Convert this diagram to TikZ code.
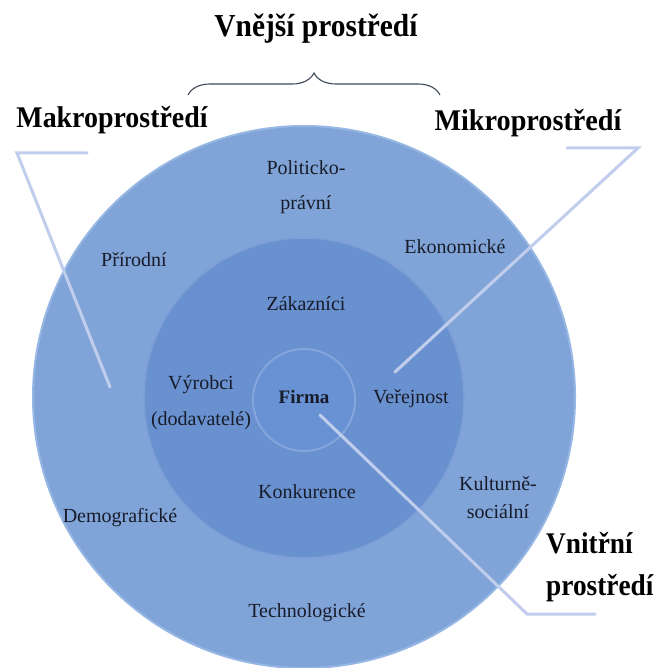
\documentclass[tikz,border=0pt]{standalone}
\usepackage{fontspec}
\usepackage{graphicx}
\setmainfont{Liberation Serif}
\usetikzlibrary{decorations.pathreplacing}
\definecolor{outerc}{RGB}{128,164,215}
\definecolor{outerrim}{RGB}{150,182,228}
\definecolor{midc}{RGB}{106,145,207}
\definecolor{midrim}{RGB}{124,159,214}
\definecolor{firmc}{RGB}{104,146,212}
\definecolor{firmrim}{RGB}{132,166,220}
\definecolor{leadc}{RGB}{192,205,236}
\definecolor{txtc}{RGB}{24,28,42}
\definecolor{bracec}{RGB}{62,72,88}
\begin{document}
\begin{tikzpicture}[x=1pt,y=-1pt,
  disc/.style={circle, inner sep=0pt, minimum size=#1},
  lab/.style={font=\fontsize{20}{35}\selectfont, text=txtc, inner sep=0pt, align=center, anchor=base},
  big/.style={font=\fontsize{30}{42}\selectfont\bfseries, text=black, inner sep=0pt, anchor=base},
  lead/.style={draw=leadc, line width=3pt, line cap=round, line join=miter}]
\useasboundingbox (0,0) rectangle (659,668);
\fill[white] (0,0) rectangle (659,668);

% circles
\node[disc=542pt, fill=outerc, draw=outerrim, line width=2pt] (outer) at (304,397) {};
\node[disc=320pt, fill=midc, draw=midrim, line width=1.5pt] (middle) at (304,398) {};
\node[disc=102pt, fill=firmc, draw=firmrim, line width=2pt] (firmacirc) at (304,400) {};

% brace
\coordinate (brL) at (188,95);
\coordinate (brR) at (440,95);
\draw[bracec, line width=1.1pt, decorate, decoration={brace, amplitude=22pt}] (brL) -- (brR);

% leader lines
\coordinate (mkA) at (87,153);
\coordinate (mkB) at (17,153);
\coordinate (mkC) at (110,387);
\draw[lead] (mkA) -- (mkB) -- (mkC);
\coordinate (miA) at (567,148);
\coordinate (miB) at (638,148);
\coordinate (miC) at (395,372);
\draw[lead] (miA) -- (miB) -- (miC);
\coordinate (vnA) at (320,415);
\coordinate (vnB) at (527,614);
\coordinate (vnC) at (595,614);
\draw[lead] (vnA) -- (vnB) -- (vnC);

% headings
\node[big, font=\fontsize{32}{42}\selectfont\bfseries] (vnejsi) at (316,37) {\scalebox{0.92}[1]{Vnější prostředí}};
\node[big] (makro) at (112,128) {\scalebox{0.93}[1]{Makroprostředí}};
\node[big] (mikro) at (528,131) {\scalebox{0.94}[1]{Mikroprostředí}};
\node[big, anchor=base west, align=left] (vnitrni) at (546,595) {\scalebox{0.91}[1]{Vnitřní}\\\scalebox{0.91}[1]{prostředí}};

% ring labels
\node[lab] (polit) at (306,210) {Politicko-\\právní};
\node[lab] (ekon) at (455,253) {Ekonomické};
\node[lab] (prir) at (134,266) {Přírodní};
\node[lab] (zak) at (306,310) {Zákazníci};
\node[lab, font=\fontsize{20}{36}\selectfont] (vyr) at (201,425) {Výrobci\\(dodavatelé)};
\node[lab, font=\fontsize{19}{24}\selectfont\bfseries] (firma) at (304,403) {Firma};
\node[lab] (ver) at (411,403) {Veřejnost};
\node[lab] (konk) at (307,498) {Konkurence};
\node[lab, font=\fontsize{20}{28}\selectfont] (kult) at (498,518) {Kulturně-\\sociální};
\node[lab] (demo) at (120,522) {Demografické};
\node[lab] (tech) at (307,617) {Technologické};
\end{tikzpicture}
\end{document}
